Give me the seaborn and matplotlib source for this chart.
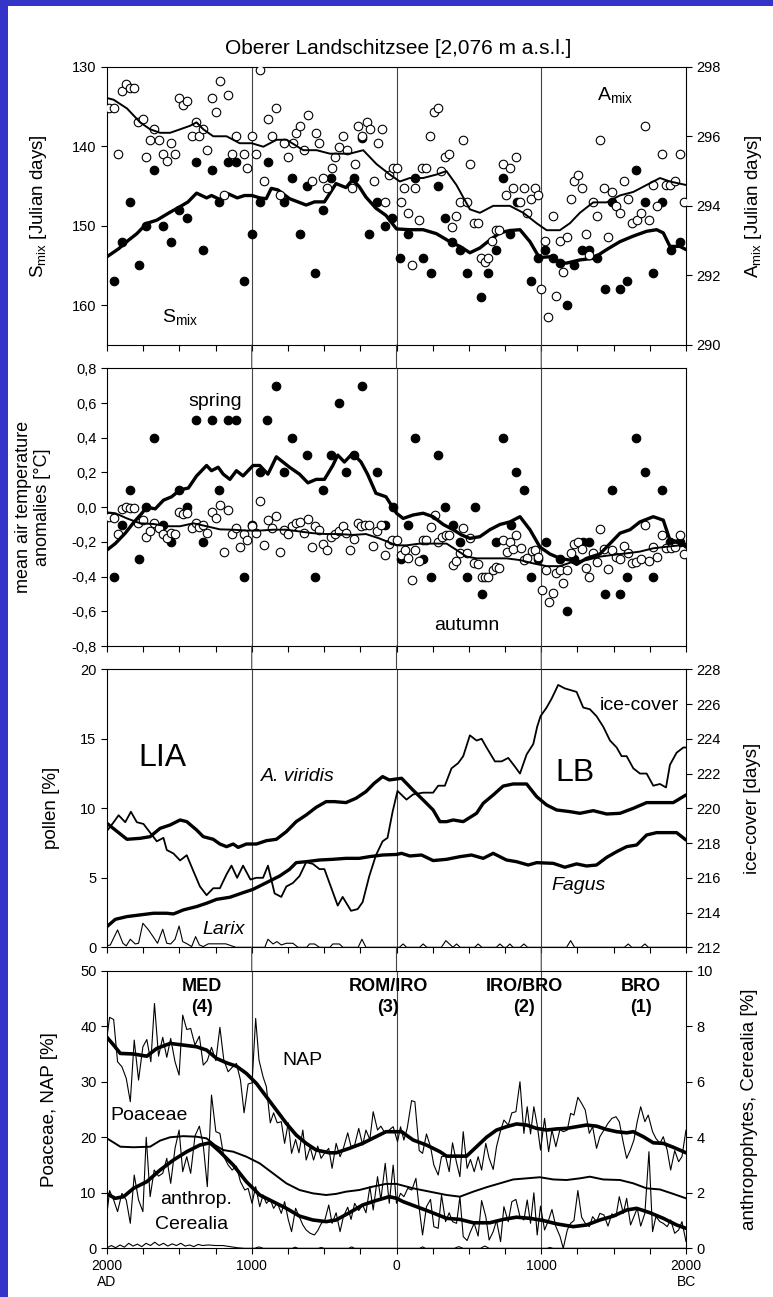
import warnings
warnings.filterwarnings("ignore")
import matplotlib
matplotlib.use("Agg")
import matplotlib.pyplot as plt
import seaborn as sns
from matplotlib.patches import Rectangle, ConnectionPatch
from matplotlib.ticker import MultipleLocator

# ---------------- data (years: negative = AD, positive = BC) ----------------
# panel 1: S_mix (filled, left axis) and A_mix (open, right axis)
smix_pts = [(-1954, 157), (-1897, 152), (-1839, 147), (-1782, 155), (-1729, 150), (-1672, 143), (-1615, 150),
            (-1557, 152), (-1502, 148), (-1445, 149), (-1388, 142), (-1335, 153), (-1278, 143), (-1225, 147),
            (-1163, 142), (-1106, 142), (-1055, 157), (-998, 151), (-945, 147), (-888, 142), (-778, 147),
            (-725, 144), (-670, 151), (-617, 145), (-562, 156), (-509, 148), (-452, 144), (-291, 144),
            (-241, 139), (-188, 151), (-138, 147), (-80, 150), (-28, 149), (27, 154), (80, 151), (131, 144),
            (184, 154), (235, 156), (287, 145), (337, 149), (386, 152), (437, 153), (488, 156), (587, 159),
            (633, 156), (686, 153), (737, 144), (785, 151), (835, 147), (928, 157), (978, 154), (1028, 153),
            (1078, 154), (1129, 154.7), (1180, 160), (1228, 155), (1279, 153), (1332, 153), (1387, 154),
            (1440, 158), (1491, 147), (1544, 158), (1594, 157), (1654, 143), (1716, 147), (1774, 156),
            (1836, 147), (1894, 153), (1958, 152)]
smix_mean = [(-2000, 153.9), (-1920, 152.9), (-1850, 151.8), (-1794, 151.0), (-1725, 149.7), (-1656, 149.3),
             (-1564, 148.3), (-1495, 147.6), (-1440, 147.0), (-1381, 145.9), (-1312, 146.5), (-1278, 146.2),
             (-1220, 146.7), (-1160, 146.0), (-1100, 146.5), (-1050, 146.2), (-998, 146.2), (-945, 146.5),
             (-900, 146.6), (-865, 145.3), (-819, 145.5), (-739, 146.6), (-681, 147.0), (-624, 147.4),
             (-566, 147.0), (-498, 147.0), (-418, 144.7), (-349, 145.2), (-303, 144.2), (-257, 145.1),
             (-211, 146.4), (-142, 147.8), (-73, 148.7), (0, 150.4), (92, 150.5), (184, 150.5), (276, 151.0),
             (368, 152.0), (438, 152.6), (507, 153.4), (576, 152.8), (645, 151.8), (714, 150.9), (783, 150.6),
             (853, 150.5), (922, 152.0), (986, 154.0), (1060, 153.9), (1129, 154.7), (1175, 154.7),
             (1267, 154.3), (1359, 154.1), (1452, 153.0), (1544, 152.0), (1636, 151.3), (1728, 150.7),
             (1797, 150.5), (1843, 150.9), (1889, 152.6), (1958, 152.6), (2000, 153.0)]
amix_pts = [(-1989, 296.8), (-1950, 296.8), (-1927, 295.5), (-1897, 297.3), (-1867, 297.5), (-1839, 297.4),
            (-1812, 297.4), (-1787, 296.4), (-1752, 296.5), (-1729, 295.4), (-1702, 295.9), (-1674, 296.2),
            (-1644, 295.9), (-1615, 295.5), (-1587, 295.3), (-1560, 295.8), (-1530, 295.5), (-1502, 297.1),
            (-1477, 296.9), (-1445, 297.0), (-1415, 296.0), (-1388, 296.4), (-1362, 296.0), (-1335, 296.2),
            (-1307, 295.6), (-1278, 297.1), (-1248, 296.7), (-1220, 297.6), (-1193, 294.3), (-1163, 297.2),
            (-1135, 295.5), (-1106, 296.0), (-1055, 295.5), (-1030, 295.1), (-1000, 296.0), (-970, 295.5),
            (-943, 297.9), (-915, 294.7), (-885, 296.5), (-862, 296.0), (-833, 296.8), (-805, 294.3),
            (-777, 295.8), (-747, 295.4), (-717, 295.8), (-694, 296.1), (-667, 296.3), (-639, 295.6),
            (-614, 296.6), (-586, 294.7), (-559, 296.1), (-533, 295.8), (-506, 294.8), (-478, 294.5),
            (-448, 295.1), (-425, 295.4), (-395, 295.7), (-368, 296.0), (-340, 295.6), (-310, 294.5),
            (-287, 295.2), (-264, 296.3), (-237, 296.0), (-207, 296.4), (-184, 296.2), (-156, 294.7),
            (-131, 295.8), (-103, 296.2), (-76, 294.1), (-51, 294.9), (-27, 295.1), (0, 295.1), (28, 294.1),
            (53, 294.5), (80, 293.8), (108, 292.3), (131, 294.5), (156, 293.6), (179, 295.1), (207, 295.1),
            (234, 296.0), (257, 296.7), (287, 296.8), (310, 295.0), (338, 295.4), (363, 295.5), (386, 293.4),
            (414, 293.7), (437, 294.1), (460, 295.9), (488, 294.1), (511, 295.2), (534, 293.5), (563, 293.5),
            (582, 292.5), (609, 292.4), (632, 292.5), (662, 293.0), (685, 293.3), (708, 293.3), (736, 295.2),
            (759, 294.3), (782, 295.1), (805, 294.5), (828, 295.4), (851, 294.1), (878, 294.5), (901, 293.8),
            (926, 294.2), (954, 294.5), (977, 294.3), (1000, 291.6), (1023, 293.0), (1048, 290.8),
            (1078, 293.7), (1101, 291.4), (1129, 293.0), (1152, 292.1), (1180, 293.1), (1203, 294.2),
            (1228, 294.7), (1256, 294.9), (1279, 294.5), (1307, 293.2), (1332, 292.6), (1359, 294.1),
            (1382, 293.7), (1405, 295.9), (1435, 294.5), (1463, 293.1), (1491, 294.4), (1516, 294.0),
            (1544, 293.8), (1574, 294.7), (1601, 294.2), (1629, 293.5), (1659, 293.6), (1687, 293.8),
            (1716, 296.3), (1744, 293.6), (1774, 294.6), (1802, 294.0), (1836, 295.5), (1862, 294.6),
            (1889, 294.6), (1924, 294.7), (1958, 295.5), (1986, 294.1)]
amix_mean = [(-2000, 297.1), (-1954, 297.05), (-1862, 296.8), (-1771, 296.4), (-1702, 296.2), (-1633, 296.1),
             (-1564, 296.1), (-1495, 296.2), (-1427, 296.3), (-1381, 296.4), (-1335, 296.2), (-1266, 296.0),
             (-1174, 296.0), (-1083, 295.8), (-1000, 295.8), (-920, 295.7), (-828, 295.9), (-759, 295.9),
             (-644, 295.6), (-552, 295.6), (-460, 295.5), (-391, 295.5), (-322, 295.5), (-230, 295.6),
             (-138, 295.2), (-46, 294.9), (23, 294.7), (92, 294.8), (184, 294.8), (276, 294.9), (345, 295.0),
             (414, 294.6), (507, 293.9), (576, 293.8), (668, 294.0), (783, 294.0), (876, 293.8), (968, 293.5),
             (1037, 293.3), (1129, 293.3), (1198, 293.5), (1267, 293.8), (1359, 294.1), (1452, 294.1),
             (1544, 294.3), (1636, 294.4), (1728, 294.6), (1820, 294.8), (1889, 294.7), (2000, 294.6)]

# panel 2: temperature anomalies
spring_pts = [(-1954, -0.4), (-1897, -0.1), (-1839, 0.1), (-1782, -0.3), (-1729, 0.0), (-1672, 0.4),
              (-1615, -0.1), (-1557, -0.2), (-1502, 0.1), (-1445, 0.0), (-1388, 0.5), (-1335, -0.2),
              (-1278, 0.5), (-1225, 0.1), (-1167, 0.5), (-1110, 0.5), (-1055, -0.4), (-998, -0.1), (-945, 0.2),
              (-892, 0.5), (-835, 0.7), (-780, 0.2), (-725, 0.4), (-617, 0.3), (-562, -0.4), (-509, 0.1),
              (-452, 0.3), (-399, 0.6), (-349, 0.2), (-291, 0.3), (-239, 0.7), (-138, 0.2), (-80, -0.1),
              (-27, 0.0), (28, -0.3), (81, -0.1), (131, 0.4), (184, -0.3), (235, -0.4), (286, 0.3), (336, 0.0),
              (387, -0.1), (438, -0.2), (488, -0.4), (539, 0.0), (588, -0.5), (687, -0.2), (737, 0.4),
              (788, -0.1), (829, 0.2), (880, 0.1), (929, -0.4), (979, -0.3), (1030, -0.2), (1129, -0.3),
              (1180, -0.6), (1228, -0.3), (1290, -0.2), (1332, -0.2), (1440, -0.5), (1491, 0.1), (1544, -0.5),
              (1594, -0.4), (1654, 0.4), (1716, 0.2), (1774, -0.4), (1832, 0.1), (1889, -0.2), (1958, -0.2)]
spring_mean = [(-2000, -0.247), (-1943, -0.21), (-1874, -0.15), (-1817, -0.09), (-1759, -0.035), (-1725, 0.0),
               (-1667, -0.01), (-1610, 0.04), (-1553, 0.06), (-1495, 0.1), (-1438, 0.11), (-1381, 0.18),
               (-1312, 0.24), (-1278, 0.21), (-1232, 0.23), (-1197, 0.19), (-1151, 0.16), (-1106, 0.21),
               (-1060, 0.18), (-991, 0.24), (-945, 0.24), (-888, 0.19), (-830, 0.29), (-739, 0.23),
               (-670, 0.19), (-612, 0.14), (-555, 0.16), (-498, 0.16), (-440, 0.24), (-406, 0.3), (-360, 0.26),
               (-303, 0.31), (-245, 0.26), (-200, 0.19), (-142, 0.08), (-73, 0.06), (0, -0.035), (46, -0.065),
               (115, -0.045), (184, -0.035), (253, -0.055), (323, -0.1), (392, -0.13), (449, -0.16),
               (507, -0.18), (576, -0.17), (645, -0.13), (714, -0.1), (783, -0.085), (853, -0.055),
               (922, -0.13), (991, -0.23), (1060, -0.27), (1129, -0.295), (1198, -0.305), (1244, -0.33),
               (1313, -0.295), (1405, -0.27), (1475, -0.21), (1544, -0.15), (1613, -0.13), (1682, -0.085),
               (1774, -0.055), (1843, -0.075), (1889, -0.19), (1958, -0.2), (2000, -0.23)]
autumn_pts = [(-1989, -0.055), (-1950, -0.06), (-1927, -0.157), (-1897, -0.013), (-1867, 0.003), (-1839, -0.007),
              (-1812, -0.007), (-1787, -0.09), (-1752, -0.075), (-1729, -0.17), (-1702, -0.135), (-1674, -0.093),
              (-1644, -0.12), (-1615, -0.157), (-1587, -0.18), (-1560, -0.15), (-1530, -0.155), (-1502, -0.026),
              (-1477, -0.04), (-1445, -0.035), (-1415, -0.12), (-1388, -0.09), (-1362, -0.116), (-1335, -0.1),
              (-1307, -0.15), (-1278, -0.026), (-1248, -0.064), (-1220, 0.012), (-1193, -0.256), (-1163, -0.016),
              (-1135, -0.155), (-1106, -0.12), (-1083, -0.23), (-1055, -0.155), (-1030, -0.19), (-998, -0.11),
              (-968, -0.15), (-945, 0.035), (-917, -0.22), (-888, -0.075), (-860, -0.12), (-835, -0.05),
              (-807, -0.256), (-780, -0.13), (-752, -0.157), (-725, -0.11), (-697, -0.093), (-670, -0.085),
              (-642, -0.15), (-612, -0.07), (-582, -0.23), (-560, -0.11), (-532, -0.13), (-509, -0.21),
              (-479, -0.247), (-452, -0.17), (-422, -0.155), (-399, -0.135), (-372, -0.11), (-349, -0.15),
              (-319, -0.247), (-291, -0.185), (-268, -0.093), (-246, -0.11), (-216, -0.1), (-188, -0.1),
              (-161, -0.225), (-138, -0.135), (-108, -0.1), (-80, -0.275), (-55, -0.21), (-32, -0.19), (0, -0.19),
              (28, -0.275), (58, -0.247), (81, -0.295), (108, -0.42), (131, -0.247), (157, -0.31), (180, -0.19),
              (207, -0.19), (235, -0.116), (265, -0.045), (288, -0.2), (311, -0.17), (339, -0.16), (364, -0.16),
              (387, -0.333), (410, -0.31), (438, -0.266), (461, -0.12), (488, -0.266), (511, -0.18), (537, -0.32),
              (564, -0.328), (588, -0.4), (611, -0.405), (634, -0.405), (664, -0.362), (687, -0.347),
              (710, -0.352), (733, -0.19), (760, -0.256), (783, -0.2), (806, -0.243), (829, -0.16), (857, -0.237),
              (880, -0.305), (903, -0.295), (933, -0.25), (956, -0.247), (979, -0.285), (1002, -0.477),
              (1030, -0.362), (1053, -0.545), (1078, -0.497), (1101, -0.38), (1129, -0.362), (1152, -0.435),
              (1180, -0.362), (1203, -0.266), (1228, -0.212), (1256, -0.2), (1279, -0.243), (1307, -0.352),
              (1332, -0.4), (1359, -0.266), (1382, -0.314), (1405, -0.128), (1433, -0.243), (1463, -0.358),
              (1491, -0.247), (1516, -0.285), (1544, -0.3), (1574, -0.225), (1597, -0.266), (1629, -0.32),
              (1654, -0.314), (1687, -0.3), (1716, -0.1), (1744, -0.31), (1774, -0.23), (1802, -0.285),
              (1836, -0.16), (1862, -0.237), (1894, -0.237), (1924, -0.23), (1958, -0.16), (1986, -0.27)]
autumn_mean = [(-2000, -0.03), (-1943, -0.035), (-1862, -0.065), (-1771, -0.093), (-1679, -0.097), (-1587, -0.11),
               (-1495, -0.11), (-1404, -0.093), (-1312, -0.11), (-1220, -0.128), (-1128, -0.13), (-1037, -0.135),
               (-945, -0.135), (-853, -0.13), (-761, -0.13), (-670, -0.14), (-578, -0.15), (-486, -0.155),
               (-394, -0.155), (-303, -0.16), (-211, -0.155), (-119, -0.18), (0, -0.22), (69, -0.22),
               (161, -0.21), (253, -0.21), (346, -0.21), (415, -0.247), (484, -0.285), (553, -0.295),
               (645, -0.295), (760, -0.295), (853, -0.305), (945, -0.324), (1037, -0.34), (1129, -0.34),
               (1221, -0.314), (1313, -0.305), (1405, -0.285), (1498, -0.275), (1590, -0.266), (1682, -0.256),
               (1774, -0.237), (1866, -0.228), (1958, -0.22), (2000, -0.21)]
temp_ticks = [0.8, 0.6, 0.4, 0.2, 0.0, -0.2, -0.4, -0.6, -0.8]
temp_labels = ["0,8", "0,6", "0,4", "0,2", "0,0", "-0,2", "-0,4", "-0,6", "-0,8"]

# panel 3: pollen [%] and ice-cover [days]
viridis = [(-2000, 8.92), (-1943, 8.44), (-1862, 7.77), (-1771, 7.84), (-1702, 7.96), (-1633, 8.56), (-1564, 8.8),
           (-1495, 9.16), (-1449, 9.04), (-1381, 8.44), (-1335, 7.96), (-1266, 7.77), (-1220, 7.43), (-1174, 7.24),
           (-1128, 7.43), (-1094, 7.19), (-1037, 7.43), (-968, 7.43), (-899, 7.67), (-830, 7.77), (-761, 8.32),
           (-693, 9.04), (-624, 9.52), (-555, 10.07), (-486, 10.48), (-429, 10.48), (-349, 10.41), (-280, 10.72),
           (-211, 11.2), (-154, 11.8), (-96, 12.28), (-50, 12.04), (35, 12.16), (115, 11.3), (184, 10.6),
           (253, 9.88), (300, 9.04), (346, 9.04), (392, 9.16), (461, 9.04), (553, 9.64), (599, 10.36),
           (668, 10.96), (737, 11.6), (806, 11.75), (899, 11.75), (968, 10.84), (1037, 10.24), (1106, 9.88),
           (1198, 9.76), (1267, 9.64), (1359, 9.83), (1452, 9.59), (1544, 9.64), (1636, 10.0), (1728, 10.41),
           (1820, 10.41), (1912, 10.41), (2000, 10.96)]
fagus = [(-2000, 1.49), (-1943, 2.01), (-1862, 2.21), (-1771, 2.33), (-1679, 2.45), (-1587, 2.45), (-1541, 2.4),
         (-1472, 2.69), (-1381, 2.93), (-1312, 3.17), (-1243, 3.45), (-1151, 3.6), (-1060, 3.93), (-991, 4.17),
         (-899, 4.65), (-807, 5.13), (-739, 5.61), (-693, 6.09), (-624, 6.16), (-532, 6.28), (-440, 6.33),
         (-349, 6.4), (-257, 6.4), (-188, 6.52), (-96, 6.64), (0, 6.68), (35, 6.76), (92, 6.57), (173, 6.64),
         (253, 6.24), (346, 6.33), (438, 6.52), (518, 6.64), (599, 6.4), (668, 6.76), (760, 6.28), (829, 6.16),
         (910, 5.92), (968, 6.09), (1083, 6.04), (1163, 5.76), (1244, 6.0), (1313, 5.85), (1382, 5.92),
         (1452, 6.47), (1521, 6.88), (1590, 7.24), (1659, 7.36), (1728, 8.08), (1797, 8.25), (1866, 8.25),
         (1935, 8.25), (2000, 7.72)]
larix = [(-2000, 0.1), (-1977, 0.17), (-1927, 1.25), (-1890, 0.29), (-1867, 0.1), (-1839, 0.58), (-1805, 0.24),
         (-1782, 0.29), (-1752, 1.73), (-1713, 1.25), (-1674, 0.65), (-1651, 0.29), (-1615, 1.3), (-1587, 0.29),
         (-1560, 0.24), (-1530, 0.58), (-1502, 1.53), (-1477, 0.41), (-1445, 0.24), (-1415, 0.05), (-1388, 0.77),
         (-1362, 0.17), (-1335, 0.05), (-1300, 0.25), (-1180, 0.25), (-1110, 0.0), (-910, 0.0), (-888, 0.58),
         (-853, 0.24), (-826, 0.41), (-796, 0.17), (-761, 0.29), (-716, 0.29), (-680, 0.0), (-620, 0.0),
         (-601, 0.24), (-566, 0.24), (-532, 0.0), (-460, 0.0), (-440, 0.24), (-395, 0.24), (-370, 0.0),
         (-265, 0.0), (-239, 0.58), (-211, 0.0), (20, 0.0), (46, 0.24), (70, 0.0), (160, 0.0), (184, 0.24),
         (210, 0.0), (310, 0.0), (341, 0.48), (370, 0.2), (390, 0.0), (415, 0.24), (440, 0.0), (540, 0.0),
         (564, 0.24), (590, 0.0), (690, 0.0), (714, 0.24), (740, 0.0), (760, 0.0), (783, 0.24), (805, 0.0),
         (855, 0.0), (880, 0.24), (905, 0.0), (1175, 0.0), (1203, 0.48), (1230, 0.0), (1575, 0.0), (1601, 0.24),
         (1625, 0.0), (1690, 0.0), (1716, 0.24), (1740, 0.0), (2000, 0.0)]
ice_cover = [(-2000, 218.7), (-1954, 219.2), (-1920, 219.6), (-1874, 219.2), (-1835, 219.8), (-1794, 219.2),
             (-1748, 219.1), (-1702, 218.6), (-1656, 218.1), (-1610, 218.3), (-1587, 217.6), (-1541, 217.4),
             (-1495, 217.0), (-1449, 217.3), (-1404, 216.4), (-1358, 215.5), (-1312, 215.0), (-1266, 215.4),
             (-1220, 215.4), (-1174, 216.2), (-1140, 216.7), (-1101, 216.0), (-1060, 216.7), (-1009, 215.9),
             (-968, 216.0), (-922, 216.0), (-888, 216.7), (-842, 215.1), (-796, 214.9), (-761, 215.5),
             (-716, 215.7), (-670, 216.1), (-624, 216.9), (-578, 216.8), (-532, 216.5), (-498, 216.5),
             (-463, 215.7), (-406, 214.4), (-372, 214.9), (-314, 214.1), (-268, 214.2), (-234, 214.6),
             (-188, 216.1), (-142, 217.3), (-96, 218.1), (-62, 218.3), (-27, 219.8), (7, 221.0), (69, 220.5),
             (115, 220.8), (184, 220.9), (253, 220.9), (288, 221.3), (334, 221.3), (380, 222.3), (426, 222.6),
             (461, 223.0), (507, 224.2), (553, 223.9), (588, 224.0), (622, 223.5), (680, 222.7), (726, 222.7),
             (772, 222.9), (818, 222.4), (853, 222.0), (899, 223.1), (945, 223.7), (972, 224.7), (995, 225.3),
             (1037, 225.8), (1071, 226.3), (1117, 227.1), (1163, 226.9), (1244, 226.7), (1290, 225.8),
             (1336, 225.7), (1382, 225.3), (1428, 224.7), (1475, 223.9), (1521, 223.5), (1555, 223.0),
             (1590, 223.0), (1636, 222.3), (1682, 222.0), (1728, 222.0), (1774, 221.3), (1820, 221.4),
             (1862, 221.2), (1889, 222.5), (1935, 223.2), (1982, 223.5), (2000, 223.5)]

# panel 4: NAP / Poaceae [%] (left), anthropophytes / Cerealia [%] (right)
nap_raw = [(-2000, 38.1), (-1982, 41.6), (-1954, 41.2), (-1927, 33.6), (-1897, 32.7), (-1867, 30.6), (-1839, 26.4),
           (-1812, 37.5), (-1782, 30.3), (-1752, 36.3), (-1725, 37.6), (-1697, 33.6), (-1672, 44.1), (-1644, 34.6),
           (-1615, 38.0), (-1587, 34.4), (-1560, 37.8), (-1530, 33.6), (-1502, 31.2), (-1477, 42.0), (-1449, 39.4),
           (-1422, 39.6), (-1392, 36.6), (-1362, 38.2), (-1335, 33.0), (-1307, 33.8), (-1278, 36.2), (-1248, 33.8),
           (-1220, 39.8), (-1193, 33.9), (-1163, 31.8), (-1135, 32.6), (-1106, 33.3), (-1078, 30.3), (-1053, 24.4),
           (-1025, 29.6), (-998, 29.8), (-973, 41.4), (-950, 33.9), (-922, 30.9), (-899, 29.1), (-872, 22.6),
           (-849, 24.4), (-824, 22.6), (-796, 22.8), (-773, 18.9), (-748, 22.6), (-725, 17.1), (-697, 19.6),
           (-674, 17.2), (-647, 21.3), (-624, 15.9), (-596, 18.2), (-573, 15.9), (-544, 18.4), (-521, 16.2),
           (-495, 17.2), (-468, 18.0), (-445, 14.4), (-417, 18.9), (-390, 16.5), (-367, 18.0), (-337, 20.8),
           (-314, 18.3), (-289, 18.6), (-261, 21.6), (-234, 18.6), (-211, 21.3), (-184, 19.6), (-161, 24.6),
           (-131, 21.3), (-108, 22.0), (-78, 20.7), (-50, 21.3), (-23, 21.9), (7, 19.2), (28, 21.9), (51, 19.5),
           (74, 21.6), (104, 26.6), (127, 26.4), (157, 17.6), (180, 17.1), (207, 20.6), (235, 18.3), (258, 15.0),
           (288, 13.2), (311, 16.5), (339, 16.6), (364, 13.8), (387, 19.0), (415, 15.4), (438, 12.9), (461, 21.0),
           (488, 14.4), (511, 16.0), (537, 13.8), (564, 16.5), (588, 14.1), (617, 18.9), (640, 16.2), (668, 14.2),
           (691, 18.3), (719, 21.2), (742, 23.1), (772, 22.2), (797, 24.4), (825, 24.6), (853, 30.0), (880, 20.7),
           (903, 25.5), (926, 20.6), (949, 25.5), (972, 22.2), (995, 17.7), (1023, 23.4), (1051, 17.4),
           (1074, 21.3), (1101, 18.3), (1129, 21.4), (1152, 21.0), (1180, 21.3), (1203, 24.3), (1226, 24.0),
           (1253, 27.2), (1279, 26.1), (1304, 24.9), (1332, 20.7), (1355, 21.9), (1382, 18.0), (1405, 20.1),
           (1433, 21.3), (1461, 22.5), (1488, 23.4), (1516, 23.7), (1539, 22.8), (1567, 19.0), (1590, 16.2),
           (1617, 17.8), (1640, 19.5), (1663, 22.8), (1687, 25.5), (1716, 22.8), (1739, 24.0), (1769, 21.0),
           (1792, 19.8), (1820, 18.9), (1843, 20.1), (1870, 17.7), (1894, 14.1), (1922, 17.6), (1949, 15.6),
           (1972, 16.5), (2000, 21.3)]
nap_smooth = [(-2000, 38.0), (-1954, 36.6), (-1908, 35.1), (-1817, 35.0), (-1725, 34.6), (-1656, 36.0),
              (-1564, 36.9), (-1472, 36.6), (-1381, 36.3), (-1312, 35.7), (-1243, 34.2), (-1174, 33.4),
              (-1106, 32.8), (-1037, 31.5), (-968, 29.7), (-899, 27.3), (-830, 24.9), (-761, 22.5), (-693, 20.4),
              (-624, 18.9), (-555, 17.7), (-463, 17.2), (-417, 17.2), (-326, 18.0), (-234, 18.9), (-142, 20.1),
              (-73, 21.0), (0, 21.0), (35, 21.0), (115, 19.5), (207, 18.6), (300, 17.4), (346, 16.6), (415, 16.6),
              (484, 16.6), (553, 18.3), (622, 20.0), (691, 21.3), (760, 21.9), (829, 22.4), (899, 22.2),
              (968, 21.6), (1037, 21.3), (1106, 21.5), (1175, 21.6), (1244, 21.9), (1313, 22.2), (1382, 22.0),
              (1452, 21.4), (1521, 21.0), (1590, 20.8), (1636, 21.0), (1705, 20.1), (1774, 19.0), (1843, 18.9),
              (1912, 18.2), (2000, 17.2)]
poaceae = [(-2000, 19.8), (-1908, 18.3), (-1817, 18.2), (-1702, 18.3), (-1633, 19.4), (-1564, 20.0), (-1472, 20.2),
           (-1381, 20.1), (-1312, 19.8), (-1255, 18.6), (-1197, 17.7), (-1128, 17.4), (-1037, 16.5), (-945, 15.3),
           (-853, 13.5), (-761, 11.7), (-670, 10.5), (-578, 9.9), (-486, 9.6), (-417, 9.8), (-349, 10.2),
           (-257, 10.5), (-165, 11.1), (-73, 11.6), (0, 11.6), (115, 10.8), (230, 10.2), (346, 9.6), (438, 9.3),
           (530, 10.2), (622, 11.0), (714, 11.7), (806, 12.4), (899, 12.6), (991, 12.8), (1083, 12.4),
           (1175, 12.3), (1267, 12.6), (1336, 12.9), (1428, 12.4), (1544, 12.3), (1636, 11.7), (1728, 10.8),
           (1820, 10.6), (1912, 9.8), (2000, 9.0)]
anthrop_raw = [(-2000, 1.26), (-1982, 2.08), (-1954, 1.74), (-1927, 1.32), (-1897, 1.98), (-1867, 1.74), (-1839, 0.9),
               (-1812, 2.64), (-1782, 1.74), (-1752, 1.32), (-1729, 4.0), (-1702, 1.86), (-1674, 2.82), (-1644, 2.6),
               (-1615, 2.7), (-1587, 3.24), (-1560, 2.34), (-1530, 3.6), (-1502, 4.26), (-1477, 2.76), (-1449, 3.3),
               (-1422, 2.7), (-1392, 4.05), (-1362, 4.4), (-1335, 3.72), (-1307, 2.22), (-1278, 5.52), (-1248, 4.2),
               (-1220, 4.14), (-1193, 3.3), (-1163, 3.0), (-1135, 2.82), (-1106, 2.96), (-1078, 2.4), (-1048, 2.1),
               (-1025, 2.16), (-998, 1.62), (-973, 2.22), (-945, 1.5), (-922, 1.92), (-899, 1.62), (-872, 1.76),
               (-849, 1.44), (-824, 1.64), (-796, 1.26), (-773, 1.68), (-748, 1.04), (-725, 0.6), (-697, 1.44),
               (-674, 1.16), (-647, 0.84), (-624, 0.66), (-596, 0.54), (-567, 0.48), (-544, 0.64), (-521, 0.88),
               (-495, 1.02), (-468, 1.56), (-445, 0.9), (-417, 1.28), (-390, 0.6), (-367, 1.14), (-337, 1.48),
               (-314, 1.04), (-289, 1.62), (-261, 1.36), (-234, 1.56), (-211, 1.28), (-184, 2.22), (-161, 1.38),
               (-131, 2.58), (-108, 1.74), (-78, 3.06), (-50, 1.62), (-23, 3.0), (0, 1.62), (28, 1.98), (51, 1.86),
               (78, 2.16), (106, 2.1), (134, 2.52), (157, 1.44), (180, 0.48), (207, 1.5), (235, 1.76), (258, 0.78),
               (288, 0.72), (311, 1.92), (339, 0.96), (364, 1.28), (387, 0.96), (415, 0.9), (438, 1.86), (461, 0.42),
               (488, 0.28), (511, 0.6), (537, 0.9), (564, 0.44), (588, 1.72), (617, 1.14), (640, 0.3), (668, 0.6),
               (691, 1.0), (719, 0.24), (742, 1.5), (772, 0.96), (797, 1.68), (825, 1.76), (853, 1.14), (880, 1.02),
               (903, 1.74), (926, 0.9), (949, 2.0), (972, 0.48), (995, 1.52), (1023, 0.66), (1051, 1.02),
               (1074, 1.4), (1101, 0.78), (1129, 0.44), (1152, 0.0), (1180, 0.66), (1203, 0.9), (1226, 1.0),
               (1253, 2.08), (1279, 1.12), (1304, 0.9), (1332, 0.78), (1355, 1.14), (1382, 0.96), (1405, 1.26),
               (1433, 1.2), (1461, 0.8), (1488, 1.24), (1516, 1.14), (1539, 1.86), (1567, 1.26), (1590, 1.8),
               (1617, 0.84), (1640, 1.14), (1663, 1.44), (1687, 0.8), (1716, 1.26), (1744, 3.48), (1769, 0.6),
               (1792, 1.14), (1820, 0.96), (1843, 0.9), (1870, 0.78), (1894, 1.02), (1922, 0.54), (1949, 0.66),
               (1972, 0.96), (2000, 0.24)]
anthrop_smooth = [(-2000, 1.96), (-1943, 1.8), (-1885, 1.86), (-1817, 2.16), (-1725, 2.4), (-1633, 2.82),
                  (-1541, 3.18), (-1449, 3.48), (-1358, 3.72), (-1289, 3.8), (-1220, 3.48), (-1128, 3.0),
                  (-1037, 2.4), (-945, 1.92), (-853, 1.68), (-761, 1.44), (-670, 1.16), (-578, 1.02), (-486, 0.96),
                  (-417, 1.02), (-326, 1.28), (-234, 1.56), (-142, 1.72), (-50, 1.86), (0, 1.8), (46, 1.68),
                  (138, 1.5), (230, 1.32), (346, 1.08), (438, 1.04), (530, 0.92), (645, 0.92), (737, 1.04),
                  (829, 1.12), (922, 1.08), (1014, 1.0), (1106, 0.88), (1221, 0.78), (1313, 0.84), (1405, 1.02),
                  (1498, 1.16), (1590, 1.38), (1659, 1.44), (1751, 1.28), (1843, 1.08), (1935, 0.84), (2000, 0.72)]
cerealia = [(-2000, 0.02), (-1970, 0.1), (-1940, 0.02), (-1910, 0.12), (-1880, 0.04), (-1850, 0.18), (-1820, 0.08),
            (-1790, 0.15), (-1760, 0.06), (-1730, 0.18), (-1700, 0.1), (-1670, 0.22), (-1640, 0.1), (-1610, 0.18),
            (-1580, 0.08), (-1550, 0.16), (-1520, 0.1), (-1490, 0.18), (-1460, 0.08), (-1430, 0.12), (-1400, 0.06),
            (-1370, 0.14), (-1340, 0.1), (-1300, 0.12), (-1250, 0.1), (-1200, 0.1), (-1150, 0.06), (-1100, 0.02),
            (-1050, 0.0), (-980, 0.0), (-950, 0.05), (-920, 0.0), (-720, 0.0), (-700, 0.04), (-680, 0.0),
            (-540, 0.0), (-520, 0.03), (-500, 0.0), (-330, 0.0), (-310, 0.05), (-290, 0.0), (160, 0.0), (180, 0.05),
            (200, 0.0), (400, 0.0), (430, 0.06), (460, 0.0), (580, 0.0), (610, 0.08), (640, 0.0), (1040, 0.0),
            (1060, 0.03), (1080, 0.0), (2000, 0.0)]

year_ticks = [-2000, -1000, 0, 1000, 2000]
year_labels = ["2000\nAD", "1000", "0", "1000", "2000\nBC"]

# ---------------- figure ----------------
sns.set_theme(style="ticks")
plt.rcParams['font.family'] = ['Liberation Sans', 'DejaVu Sans']
plt.rcParams['mathtext.default'] = 'regular'
plt.rcParams['text.color'] = 'black'
plt.rcParams['axes.labelcolor'] = 'black'
plt.rcParams['xtick.color'] = 'black'
plt.rcParams['ytick.color'] = 'black'

fig = plt.figure(figsize=(7.73, 12.97), dpi=100)
fig.patch.set_facecolor('#3434C8')
fig.add_artist(Rectangle((8 / 773, 0), 1, 1 - 6 / 1297, transform=fig.transFigure,
                         facecolor='white', edgecolor='none', zorder=-5))

W, H = 773, 1297
rows = [(66.7, 345.0), (368.3, 646.0), (669.3, 947.3), (970.7, 1248.3)]
axes = [fig.add_axes([107 / W, 1 - b / H, 579 / W, (b - t) / H]) for t, b in rows]
ax1, ax2, ax3, ax4 = axes
TICK = 10.5
LAB = 13.5
ANN = 14


def style(ax):
    ax.set_xlim(-2000, 2000)
    ax.xaxis.set_major_locator(MultipleLocator(1000))
    ax.xaxis.set_minor_locator(MultipleLocator(250))
    ax.tick_params(axis='both', which='both', direction='out', length=4, width=0.8,
                   color='black', labelsize=TICK, labelcolor='black')
    ax.tick_params(axis='x', which='both', bottom=True, top=False, labelbottom=False)
    ax.tick_params(axis='y', which='both', left=True, right=False)
    for s in ax.spines.values():
        s.set_color('black')
        s.set_linewidth(0.8)
    for xv in year_ticks[1:-1]:
        ax.axvline(xv, color='#444444', lw=0.8, zorder=0.5)


def twin(ax):
    tw = ax.twinx()
    tw.tick_params(axis='y', direction='out', length=4, width=0.8, color='black',
                   labelsize=TICK, labelcolor='black', right=True, left=False,
                   labelright=True, labelleft=False)
    for s in tw.spines.values():
        s.set_visible(False)
    return tw


def dots(ax, pts, filled):
    x, y = zip(*pts)
    sns.scatterplot(x=list(x), y=list(y), ax=ax, s=38, color='black' if filled else 'white',
                    edgecolor='black', linewidth=0.8, legend=False, zorder=3)


def curve(ax, pts, lw):
    x, y = zip(*pts)
    sns.lineplot(x=list(x), y=list(y), ax=ax, color='black', linewidth=lw,
                 estimator=None, sort=False, legend=False, zorder=4)


for ax in axes:
    style(ax)

# panel 1
ax1r = twin(ax1)
dots(ax1, smix_pts, True)
curve(ax1, smix_mean, 2.4)
dots(ax1r, amix_pts, False)
curve(ax1r, amix_mean, 1.4)
ax1.set_ylim(165, 130)
ax1.set_yticks([130, 140, 150, 160])
ax1r.set_ylim(290, 298)
ax1r.set_yticks([290, 292, 294, 296, 298])
ax1.set_ylabel('S$_{mix}$ [Julian days]', fontsize=LAB, va='center')
ax1.yaxis.set_label_coords(-0.119, 0.5)
ax1r.set_ylabel('A$_{mix}$ [Julian days]', fontsize=LAB, va='center', rotation=90)
ax1r.yaxis.set_label_coords(1.117, 0.5)
ax1.text(1510, 133.6, 'A$_{mix}$', fontsize=ANN, ha='center', va='center')
ax1.text(-1496, 161.5, 'S$_{mix}$', fontsize=ANN, ha='center', va='center')

# panel 2
dots(ax2, spring_pts, True)
dots(ax2, autumn_pts, False)
curve(ax2, spring_mean, 2.4)
curve(ax2, autumn_mean, 1.4)
ax2.set_ylim(-0.8, 0.8)
ax2.set_yticks(temp_ticks, temp_labels)
ax2.set_ylabel('mean air temperature\nanomalies [°C]', fontsize=LAB - 0.5, va='center',
               multialignment='center')
ax2.yaxis.set_label_coords(-0.128, 0.5)
ax2.text(-1254, 0.606, 'spring', fontsize=ANN, ha='center', va='center')
ax2.text(487, -0.684, 'autumn', fontsize=ANN, ha='center', va='center')

# panel 3
ax3r = twin(ax3)
curve(ax3, viridis, 2.4)
curve(ax3, fagus, 2.4)
curve(ax3, larix, 0.8)
curve(ax3r, ice_cover, 1.3)
ax3.set_ylim(0, 20)
ax3.set_yticks([0, 5, 10, 15, 20])
ax3r.set_ylim(212, 228)
ax3r.set_yticks(list(range(212, 229, 2)))
ax3.set_ylabel('pollen [%]', fontsize=LAB, va='center')
ax3.yaxis.set_label_coords(-0.095, 0.5)
ax3r.set_ylabel('ice-cover [days]', fontsize=LAB, va='center', rotation=90)
ax3r.yaxis.set_label_coords(1.114, 0.5)
ax3.text(-1620, 13.6, 'LIA', fontsize=23, ha='center', va='center')
ax3.text(1233, 12.55, 'LB', fontsize=23, ha='center', va='center')
ax3.text(-680, 12.3, 'A. viridis', fontsize=ANN, style='italic', ha='center', va='center')
ax3.text(-1192, 1.25, 'Larix', fontsize=ANN, style='italic', ha='center', va='center')
ax3.text(1261, 4.43, 'Fagus', fontsize=ANN, style='italic', ha='center', va='center')
ax3.text(1675, 17.4, 'ice-cover', fontsize=ANN, ha='center', va='center')

# panel 4
ax4r = twin(ax4)
curve(ax4, nap_raw, 0.8)
curve(ax4, nap_smooth, 2.6)
curve(ax4, poaceae, 1.4)
curve(ax4r, anthrop_raw, 0.8)
curve(ax4r, anthrop_smooth, 2.6)
curve(ax4r, cerealia, 0.8)
ax4.set_ylim(0, 50)
ax4.set_yticks([0, 10, 20, 30, 40, 50])
ax4r.set_ylim(0, 10)
ax4r.set_yticks([0, 2, 4, 6, 8, 10])
ax4.set_xticks(year_ticks, year_labels)
ax4.tick_params(axis='x', labelbottom=True, labelsize=TICK - 0.5)
ax4.set_ylabel('Poaceae, NAP [%]', fontsize=LAB, va='center')
ax4.yaxis.set_label_coords(-0.100, 0.5)
ax4r.set_ylabel('anthropophytes, Cerealia [%]', fontsize=LAB, va='center', rotation=90)
ax4r.yaxis.set_label_coords(1.110, 0.5)
for xt, lab in [(-1344, 'MED\n(4)'), (-59, 'ROM/IRO\n(3)'), (881, 'IRO/BRO\n(2)'), (1689, 'BRO\n(1)')]:
    ax4.text(xt, 45.3, lab, fontsize=13, fontweight='bold', ha='center', va='center',
             multialignment='center', linespacing=1.3, color='black')
ax4.text(-653, 33.9, 'NAP', fontsize=ANN, ha='center', va='center')
ax4.text(-1710, 24.0, 'Poaceae', fontsize=ANN, ha='center', va='center')
ax4.text(-1385, 8.7, 'anthrop.', fontsize=ANN, ha='center', va='center')
ax4.text(-1413, 4.2, 'Cerealia', fontsize=ANN, ha='center', va='center')

for ax in axes:
    ax.set_xlabel('')

# period lines bridging the gaps between panels
for upper, lower in zip(axes[:-1], axes[1:]):
    for xv in year_ticks[1:-1]:
        fig.add_artist(ConnectionPatch(xyA=(xv, 0), coordsA=upper.get_xaxis_transform(),
                                       xyB=(xv, 1), coordsB=lower.get_xaxis_transform(),
                                       color='#444444', lw=0.8))

fig.text(398 / W, 1 - 48 / H, 'Oberer Landschitzsee [2,076 m a.s.l.]', ha='center', va='center',
         fontsize=15, color='black')

fig.savefig('out.png', dpi=100)
